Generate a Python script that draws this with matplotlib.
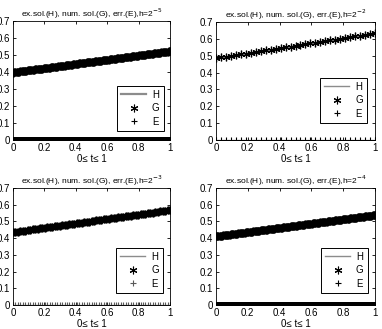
import numpy as np
import matplotlib.pyplot as plt

plt.rcParams['font.family'] = ['Liberation Sans', 'DejaVu Sans']

# exponent of h shown in each panel title (tl, tr, bl, br)
exponents = ['-5', '-2', '-3', '-4']

# solution values (exact and numerical overlap)
sol_tl = [0.397, 0.398, 0.399, 0.400, 0.401, 0.402, 0.403, 0.404, 0.405, 0.406,
          0.407, 0.408, 0.409, 0.410, 0.411, 0.412, 0.413, 0.414, 0.415, 0.416,
          0.417, 0.418, 0.418, 0.419, 0.420, 0.421, 0.422, 0.423, 0.424, 0.425,
          0.426, 0.427, 0.428, 0.429, 0.430, 0.431, 0.432, 0.433, 0.434, 0.435,
          0.436, 0.437, 0.438, 0.439, 0.440, 0.441, 0.442, 0.443, 0.444, 0.445,
          0.446, 0.447, 0.448, 0.449, 0.450, 0.451, 0.452, 0.453, 0.454, 0.455,
          0.456, 0.457, 0.458, 0.459, 0.460, 0.460, 0.461, 0.462, 0.463, 0.464,
          0.465, 0.466, 0.467, 0.468, 0.469, 0.470, 0.471, 0.472, 0.473, 0.474,
          0.475, 0.476, 0.477, 0.478, 0.479, 0.480, 0.481, 0.482, 0.483, 0.484,
          0.485, 0.486, 0.487, 0.488, 0.489, 0.490, 0.491, 0.492, 0.493, 0.494,
          0.495, 0.496, 0.497, 0.498, 0.499, 0.500, 0.501, 0.501, 0.502, 0.503,
          0.504, 0.505, 0.506, 0.507, 0.508, 0.509, 0.510, 0.511, 0.512, 0.513,
          0.514, 0.515, 0.516, 0.517, 0.518, 0.519, 0.520, 0.521, 0.522]
sol_tr = [0.485, 0.490, 0.494, 0.499, 0.504, 0.508, 0.513, 0.517, 0.522, 0.527,
          0.531, 0.536, 0.541, 0.545, 0.550, 0.554, 0.559, 0.564, 0.568, 0.573,
          0.578, 0.582, 0.587, 0.591, 0.596, 0.601, 0.605, 0.610, 0.615, 0.619,
          0.624, 0.628, 0.633]
sol_bl = [0.435, 0.437, 0.439, 0.441, 0.443, 0.445, 0.447, 0.450, 0.452, 0.454,
          0.456, 0.458, 0.460, 0.462, 0.464, 0.466, 0.468, 0.470, 0.472, 0.474,
          0.477, 0.479, 0.481, 0.483, 0.485, 0.487, 0.489, 0.491, 0.493, 0.495,
          0.497, 0.499, 0.502, 0.504, 0.506, 0.508, 0.510, 0.512, 0.514, 0.516,
          0.518, 0.520, 0.522, 0.524, 0.526, 0.529, 0.531, 0.533, 0.535, 0.537,
          0.539, 0.541, 0.543, 0.545, 0.547, 0.549, 0.551, 0.553, 0.556, 0.558,
          0.560, 0.562, 0.564, 0.566, 0.568]
sol_br = [0.410, 0.411, 0.412, 0.413, 0.414, 0.415, 0.416, 0.417, 0.418, 0.419,
          0.420, 0.421, 0.422, 0.423, 0.424, 0.425, 0.426, 0.427, 0.428, 0.429,
          0.430, 0.431, 0.432, 0.433, 0.434, 0.435, 0.436, 0.437, 0.438, 0.439,
          0.440, 0.441, 0.442, 0.443, 0.444, 0.445, 0.446, 0.447, 0.448, 0.449,
          0.450, 0.451, 0.452, 0.453, 0.454, 0.455, 0.456, 0.457, 0.458, 0.459,
          0.460, 0.461, 0.462, 0.463, 0.464, 0.465, 0.466, 0.467, 0.468, 0.469,
          0.470, 0.471, 0.472, 0.473, 0.474, 0.475, 0.476, 0.477, 0.478, 0.479,
          0.480, 0.481, 0.482, 0.483, 0.484, 0.485, 0.486, 0.487, 0.488, 0.489,
          0.490, 0.491, 0.492, 0.493, 0.494, 0.495, 0.496, 0.497, 0.498, 0.499,
          0.500, 0.501, 0.502, 0.503, 0.504, 0.505, 0.506, 0.507, 0.508, 0.509,
          0.510, 0.511, 0.512, 0.513, 0.514, 0.515, 0.516, 0.517, 0.518, 0.519,
          0.520, 0.521, 0.522, 0.523, 0.524, 0.525, 0.526, 0.527, 0.528, 0.529,
          0.530, 0.531, 0.532, 0.533, 0.534, 0.535, 0.536, 0.537, 0.538]
solutions = [sol_tl, sol_tr, sol_bl, sol_br]

# errors all read as zero
err_tl = [0.0] * len(sol_tl)
err_tr = [0.0] * len(sol_tr)
err_bl = [0.0] * len(sol_bl)
err_br = [0.0] * len(sol_br)
errors = [err_tl, err_tr, err_bl, err_br]

yticks = [0, 0.1, 0.2, 0.3, 0.4, 0.5, 0.6, 0.7]
xticks = [0, 0.2, 0.4, 0.6, 0.8, 1]
xtick_labels = ['0', '0.2', '0.4', '0.6', '0.8', '1']
ytick_labels = ['0', '0.1', '0.2', '0.3', '0.4', '0.5', '0.6', '0.7']

W, H = 382, 329
fig = plt.figure(figsize=(W / 100, H / 100), dpi=100)

# axes boxes in pixels: left, right, top, bottom
boxes = [(13, 170, 21, 140), (216, 375, 22, 140),
         (13, 170, 188, 305), (216, 375, 188, 305)]
# legend upper-left corner in pixels
leg_pos = [(117, 86), (320, 78), (116, 248), (321, 248)]
# H line width in the legend sample differs a little between panels
h_lw = [1.6, 1.0, 1.0, 1.0]
# marker stroke: the dense panels render as solid bands
g_mew = [1.5, 0.9, 1.4, 1.5]
e_mew = [1.5, 0.8, 0.8, 1.5]
e_col = ['k', 'k', '0.35', 'k']

asterisk = (6, 2, 0)

for k in range(4):
    l, r, t, b = boxes[k]
    ax = fig.add_axes([l / W, 1 - b / H, (r - l) / W, (b - t) / H])
    y = solutions[k]
    x = np.linspace(0, 1, len(y))
    ax.plot(x, y, color='0.55', lw=h_lw[k], label='H')
    ax.plot(x, y, ls='none', marker=asterisk, color='k', ms=5.5,
            mew=g_mew[k], label='G')
    ax.plot(x, errors[k], ls='none', marker='+', color=e_col[k], ms=5,
            mew=e_mew[k], label='E')
    ax.set_xlim(0, 1)
    ax.set_ylim(0, 0.7)
    ax.set_xticks(xticks)
    ax.set_xticklabels(xtick_labels)
    ax.set_yticks(yticks)
    ax.set_yticklabels(ytick_labels)
    ax.tick_params(direction='in', top=True, right=True, length=2.5,
                   width=0.6, labelsize=7, pad=2)
    for s in ax.spines.values():
        s.set_linewidth(0.6)
    ax.set_xlabel('0≤ t≤ 1', fontsize=7, labelpad=1)
    ax.set_title('ex.sol.(H), num. sol.(G), err.(E),h=2$^{' + exponents[k] + '}$',
                 fontsize=6, pad=3)
    lx, ly = leg_pos[k]
    leg = ax.legend(loc='upper left',
                    bbox_to_anchor=((lx - l) / (r - l), (b - ly) / (b - t)),
                    fontsize=7, handlelength=2.6, handletextpad=0.6,
                    borderpad=0.4, labelspacing=0.35, borderaxespad=0,
                    fancybox=False, framealpha=1, edgecolor='k')
    leg.get_frame().set_linewidth(0.7)
    for hnd in leg.legend_handles[1:]:
        hnd.set_markeredgewidth(0.8)

fig.savefig('out.png', dpi=100)
